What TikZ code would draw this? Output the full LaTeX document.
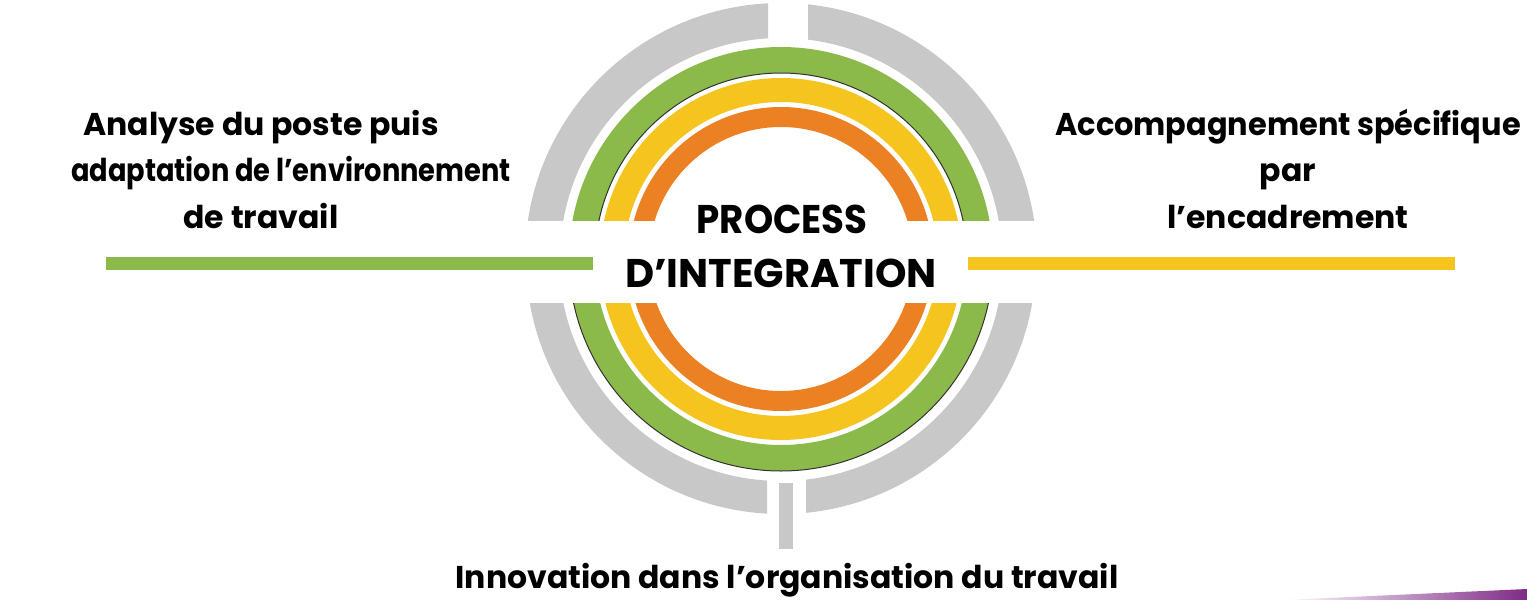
\documentclass[tikz,border=0pt]{standalone}
\usepackage{fontspec}
\setmainfont{Poppins}
\definecolor{ggray}{HTML}{C8C8C8}
\definecolor{ggreen}{HTML}{8BBA4A}
\definecolor{gyellow}{HTML}{F5C41E}
\definecolor{gorange}{HTML}{EC8124}
\definecolor{gpurple}{HTML}{7E2B86}
\tikzset{
  sidelbl/.style={inner sep=0pt, align=center, font=\bfseries\fontsize{31.5}{46.5}\selectfont},
  midlbl/.style={inner sep=0pt, font=\bfseries\fontsize{40}{52}\selectfont},
  armline/.style={line width=13pt},
  ring/.style={even odd rule}
}
\begin{document}
\begin{tikzpicture}[x=1pt,y=-1pt]
\useasboundingbox (0,0) rectangle (1527,600);
\coordinate (C) at (781,259);
% ---- top half
\begin{scope}
  \clip (0,0) rectangle (1527,220);
  \fill[gorange,ring] (C) circle[radius=152pt] (C) circle[radius=132pt];
  \fill[gyellow,ring] (C) circle[radius=181pt] (C) circle[radius=157pt];
  \fill[ggreen,ring] (C) circle[radius=212pt] (C) circle[radius=186pt];
  \draw[black!80,line width=1pt] (C) circle[radius=186pt];
  \begin{scope}
    \clip (0,0) rectangle (768,220);
    \fill[ggray,ring] (C) circle[radius=256pt] (C) circle[radius=221pt];
  \end{scope}
  \begin{scope}
    \clip (808,0) rectangle (1527,220);
    \fill[ggray,ring] (C) circle[radius=256pt] (C) circle[radius=221pt];
  \end{scope}
\end{scope}
% ---- bottom half
\begin{scope}
  \clip (0,303) rectangle (1527,600);
  \fill[gorange,ring] (C) circle[radius=152pt] (C) circle[radius=132pt];
  \fill[gyellow,ring] (C) circle[radius=181pt] (C) circle[radius=157pt];
  \fill[ggreen,ring] (C) circle[radius=212pt] (C) circle[radius=186pt];
  \draw[black!80,line width=1pt] (C) circle[radius=212pt];
  \begin{scope}
    \clip (0,303) rectangle (767,600);
    \fill[ggray,ring] (C) circle[radius=255pt] (C) circle[radius=222pt];
  \end{scope}
  \begin{scope}
    \clip (806,303) rectangle (1527,600);
    \fill[ggray,ring] (C) circle[radius=255pt] (C) circle[radius=222pt];
  \end{scope}
\end{scope}
\fill[ggray] (779,483) rectangle (793,549);
% ---- arms
\coordinate (g1) at (106,263);
\coordinate (g2) at (593,263);
\coordinate (y1) at (968,263);
\coordinate (y2) at (1455,263);
\draw[ggreen,armline] (g1) -- (g2);
\draw[gyellow,armline] (y1) -- (y2);
% ---- purple corner
\shade[left color=white, right color=gpurple] (1283,600) -- (1527,589) -- (1527,600) -- cycle;
% ---- texts
\node[midlbl,anchor=base] (p1) at (782,233) {\scalebox{0.93}[1]{PROCESS}};
\node[midlbl,anchor=base] (p2) at (781,287) {D’INTEGRATION};
\node[sidelbl,anchor=base] (lt) at (261,228) {Analyse du poste puis\\\hspace*{60pt}\scalebox{0.865}[1]{adaptation de l’environnement}\\de travail};
\node[sidelbl,anchor=base] (rt) at (1288,228) {\scalebox{0.965}[1]{Accompagnement spécifique}\\par\\l’encadrement};
\node[sidelbl,anchor=base] (bt) at (787,588) {Innovation dans l’organisation du travail};
\end{tikzpicture}
\end{document}
